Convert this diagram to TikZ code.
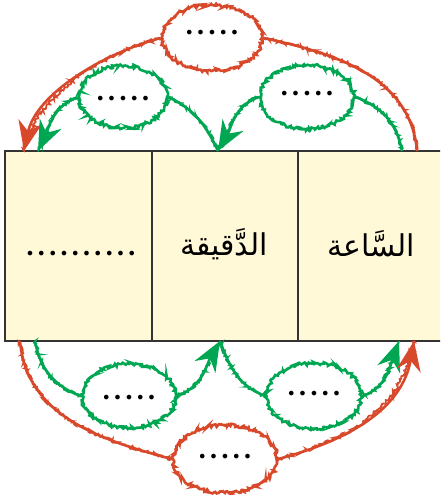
\documentclass[tikz,border=0pt]{standalone}
\usepackage{fontspec}
\newfontfamily\arabicfont[Script=Arabic]{DejaVu Sans}
\newfontfamily\dotfont{DejaVu Sans}
\TeXXeTstate=1
\usetikzlibrary{shapes.geometric,decorations.pathmorphing,arrows.meta}
\definecolor{chalkred}{HTML}{D8492B}
\definecolor{chalkgreen}{HTML}{00A651}
\definecolor{cellfill}{HTML}{FFF9D7}
\definecolor{cellline}{HTML}{333333}
\newcommand\mybul{\makebox[11.3pt]{\dotfont\fontsize{16}{16}\selectfont •}}
\newcommand\dotsfive{\mybul\mybul\mybul\mybul\mybul}
\tikzset{
  cell/.style={draw=cellline, line width=1.5pt, fill=cellfill, minimum height=190pt, inner sep=0pt},
  oval/.style={ellipse, line width=2.6pt, inner sep=0pt, text height=20pt, text depth=20pt+2*#1,
    decorate, decoration={random steps, segment length=1.4pt, amplitude=1.6pt}},
  chalk/.style={line width=2.6pt,
    postaction={draw, decorate, decoration={random steps, segment length=1.4pt, amplitude=1.7pt}, arrows=-, line width=1.8pt}},
  headtip/.style={arrows={-Stealth[length=30pt, width=24pt, inset=10pt]}},
  arab/.style={font=\arabicfont\fontsize{30}{34}\selectfont}
}
\begin{document}
\begin{tikzpicture}[x=1pt, y=1pt]
\useasboundingbox (0,0) rectangle (440,495);
\clip (0,0) rectangle (440,495);
% table cells
\node[cell, minimum width=147pt] (c1) at (78.5,249) {};
\node[cell, minimum width=146pt] (c2) at (225,249) {};
\node[cell, minimum width=146pt] (c3) at (371,249) {};
\node[inner sep=0pt] (t1) at (81,240) {\dotsfive\dotsfive};
\node[arab] (t2) at (224,251) {\beginR الدَّقيقة\endR};
\node[arab] (t3) at (371,251) {\beginR السَّاعة\endR};
% end points on the table edges
\coordinate (rts) at (417,344); \coordinate (rte) at (24,344);
\coordinate (grs) at (402,344); \coordinate (gm) at (218,344); \coordinate (gle) at (38,344);
\coordinate (rbs) at (20,154); \coordinate (rbe) at (414,154);
\coordinate (bls) at (35,154); \coordinate (bm) at (220,154); \coordinate (bre) at (399,154);
% ellipses
\node[oval=-1pt, draw=chalkred, minimum width=100pt, minimum height=66pt] (rt) at (212,457) {\dotsfive};
\node[oval=-8pt, draw=chalkgreen, minimum width=88pt, minimum height=62pt] (gl) at (123,398) {\dotsfive};
\node[oval=-3pt, draw=chalkgreen, minimum width=94pt, minimum height=64pt] (gr) at (307,398) {\dotsfive};
\node[oval=-8pt, draw=chalkgreen, minimum width=94pt, minimum height=64pt] (bl) at (129,99) {\dotsfive};
\node[oval=-4pt, draw=chalkgreen, minimum width=95pt, minimum height=66pt] (br) at (314,99) {\dotsfive};
\node[oval=-4pt, draw=chalkred, minimum width=104pt, minimum height=68pt] (rb) at (225,36) {\dotsfive};
% top red
\draw[chalk, draw=chalkred] (rts) to[out=95, in=-12] (rt.east);
\draw[chalk, headtip, draw=chalkred] (rt.west) to[out=195, in=78, looseness=0.85] (rte);
% top green
\draw[chalk, draw=chalkgreen] (grs) to[out=100, in=-20] (gr.east);
\draw[chalk, headtip, draw=chalkgreen] (gr.west) to[out=200, in=60] (gm);
\draw[chalk, draw=chalkgreen] (gm) to[out=115, in=-25] (gl.east);
\draw[chalk, headtip, draw=chalkgreen] (gl.west) to[out=200, in=65] (gle);
% bottom green
\draw[chalk, draw=chalkgreen] (bls) to[out=-80, in=160] (bl.west);
\draw[chalk, headtip, draw=chalkgreen] (bl.east) to[out=20, in=-120] (bm);
\draw[chalk, draw=chalkgreen] (bm) to[out=-70, in=160] (br.west);
\draw[chalk, headtip, draw=chalkgreen] (br.east) to[out=20, in=-110] (bre);
% bottom red
\draw[chalk, draw=chalkred] (rbs) to[out=-85, in=165] (rb.west);
\draw[chalk, headtip, draw=chalkred] (rb.east) to[out=15, in=-100] (rbe);
\end{tikzpicture}
\end{document}
